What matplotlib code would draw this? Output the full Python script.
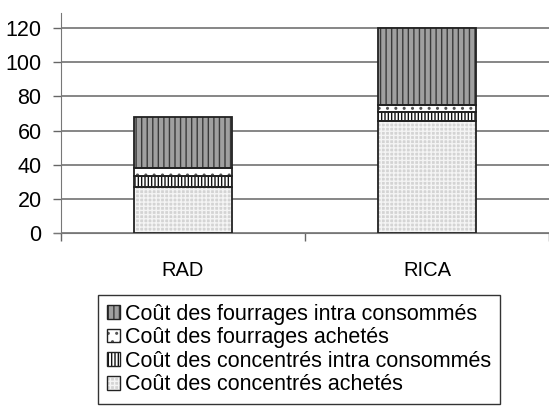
import numpy as np
import matplotlib
matplotlib.use("Agg")
import matplotlib.pyplot as plt
from matplotlib.patches import Patch
from matplotlib.legend_handler import HandlerTuple

plt.rcParams['font.family'] = ['Liberation Sans', 'DejaVu Sans']
plt.rcParams['hatch.linewidth'] = 1.0

categories = ["RAD", "RICA"]
conc_achetes = [26.7, 65.7]
conc_intra = [6.6, 5.2]
fourr_achetes = [4.5, 4.0]
fourr_intra = [30.2, 45.1]

labels = ["Coût des concentrés achetés",
          "Coût des concentrés intra consommés",
          "Coût des fourrages achetés",
          "Coût des fourrages intra consommés"]
series = [conc_achetes, conc_intra, fourr_achetes, fourr_intra]
# face colour, hatch, hatch colour
styles = [("#d4d4d4", "++++", "#f4f4f4"),
          ("white", "|||||", "#111111"),
          ("white", "..", "#555555"),
          ("#a0a0a0", "|||", "#3a3a3a")]

fig = plt.figure(figsize=(5.49, 4.07), dpi=100)
ax = fig.add_axes([61 / 549, 1 - 233 / 407, 1 - 61 / 549, (233 - 12.7) / 407])

x = np.arange(len(categories))
bottom = np.zeros(len(categories))
handles = []
for vals, lab, (fc, hatch, hc) in zip(series, labels, styles):
    ax.bar(x, vals, 0.4, bottom=bottom, color=fc, hatch=hatch,
           edgecolor=hc, linewidth=0, zorder=3)
    ax.bar(x, vals, 0.4, bottom=bottom, fill=False,
           edgecolor="#222222", linewidth=1.3, zorder=4)
    bottom += np.array(vals)
    h1 = Patch(facecolor=fc, hatch=hatch, edgecolor=hc, linewidth=0)
    h2 = Patch(fill=False, edgecolor="#222222", linewidth=1.0)
    handles.append((h1, h2))

ax.set_xlim(-0.5, 1.5)
ax.set_ylim(0, 129)
ax.set_yticks(np.arange(0, 121, 20))
ax.yaxis.grid(True, color="#666666", linewidth=1.1, zorder=0)
ax.set_axisbelow(True)

ax.set_xticks(x)
ax.set_xticklabels(categories, fontsize=14.5)
ax.set_xticks([-0.5, 0.5, 1.5], minor=True)
ax.tick_params(axis="x", which="major", length=0, pad=20)
ax.tick_params(axis="x", which="minor", length=6, width=1, color="#666666", direction="out")
ax.tick_params(axis="y", length=6, width=1, color="#666666", labelsize=15.5, pad=8)

for s in ["top", "right"]:
    ax.spines[s].set_visible(False)
ax.spines["left"].set_color("#777777")
ax.spines["bottom"].set_color("#777777")
ax.spines["bottom"].set_bounds(-0.53, 1.5)

leg = fig.legend(handles[::-1], labels[::-1], loc="upper left",
                 bbox_to_anchor=(98 / 549, 1 - 295 / 407), fontsize=15.5,
                 handler_map={tuple: HandlerTuple(ndivide=1, pad=0)},
                 frameon=True, fancybox=False, edgecolor="black",
                 handlelength=0.6, handleheight=0.6, handletextpad=0.25,
                 labelspacing=0.12, borderpad=0.4, borderaxespad=0)
leg.get_frame().set_linewidth(1.0)

fig.savefig("out.png", dpi=100)
